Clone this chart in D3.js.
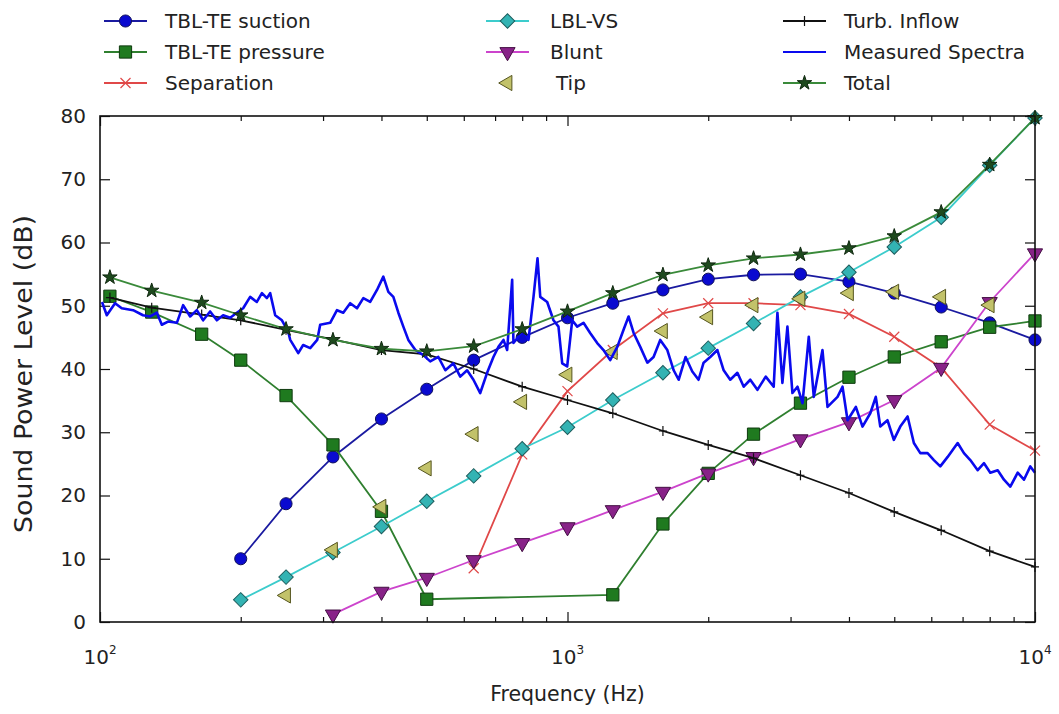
<!DOCTYPE html>
<html>
<head>
<meta charset="utf-8">
<script src="https://cdn.jsdelivr.net/npm/d3@7"></script>
<style>
body { margin: 0; background: #fff; }
text { font-family: "DejaVu Sans", Verdana, sans-serif; fill: #222; }
</style>
</head>
<body>
<svg id="chart"></svg>
<script>
// one-third octave bands (Hz)
var bands = [105, 129, 165, 200, 250, 315, 400, 500, 630, 800, 1000, 1250, 1600, 2000, 2500, 3150, 4000, 5000, 6300, 8000, 10000];

var suction    = [null, null, null, 10.0, 18.7, 26.1, 32.1, 36.8, 41.4, 45.0, 48.1, 50.4, 52.5, 54.2, 54.9, 55.0, 53.8, 52.0, 49.8, 47.3, 44.6];
var pressure   = [51.5, 49.0, 45.5, 41.4, 35.8, 28.0, 17.5, 3.6, null, null, null, 4.3, 15.5, 23.5, 29.7, 34.6, 38.7, 41.9, 44.3, 46.6, 47.6];
var separation = [null, null, null, null, null, null, null, null, 8.5, 26.5, 36.5, 43.0, 48.8, 50.4, 50.4, 50.1, 48.7, 45.1, 40.2, 31.2, 27.1];
var lblvs      = [null, null, null, 3.5, 7.1, 11.0, 15.1, 19.1, 23.1, 27.4, 30.8, 35.1, 39.4, 43.3, 47.2, 51.4, 55.3, 59.3, 64.0, 72.2, 79.7];
var blunt      = [null, null, null, null, null, 1.2, 4.8, 7.0, 9.8, 12.5, 15.0, 17.7, 20.6, 23.5, 26.1, 28.9, 31.6, 35.1, 40.2, 50.6, 58.3];
var tip        = [null, null, null, null, 4.2, 11.4, 18.2, 24.3, 29.7, 34.8, 39.1, 42.7, 46.0, 48.2, 50.1, 51.1, 52.0, 52.2, 51.4, 50.1, null];
var turb       = [51.3, 49.7, 48.6, 47.7, 46.2, 44.7, 43.0, 42.3, 40.0, 37.2, 35.1, 33.0, 30.2, 28.0, 25.9, 23.2, 20.4, 17.4, 14.5, 11.2, 8.7];
var total      = [54.5, 52.4, 50.5, 48.5, 46.3, 44.6, 43.2, 42.8, 43.6, 46.3, 49.1, 52.0, 54.9, 56.4, 57.5, 58.1, 59.1, 61.0, 64.8, 72.3, 79.7];

// measured narrow-band spectrum
var measFreq = [101, 103.4, 107.7, 111.3, 117.7, 123.6, 128, 132.3, 135.6, 139.8, 146, 150.6, 155.9, 161.1, 166.2, 172, 177.8, 183.4, 189.9, 196.2,
  202.4, 209.5, 216.5, 222, 227.5, 231.2, 237, 245, 252.7, 255.2, 261.6, 265.5, 272, 281.6, 291.5, 295.8, 310.7, 321.3, 331.4, 342.9,
  354.6, 365.8, 378.4, 391.3, 403.7, 413.8, 424.1, 434.7, 445.5, 456.6, 472.7, 491.6, 508.6, 529.3, 547.9, 569.9, 589.6, 609.9, 629.2, 650.6,
  673, 694.3, 711.6, 729.5, 742.9, 761.4, 766.3, 785.4, 805.1, 825.2, 845.8, 862.7, 874.4, 904.8, 933.3, 956.5, 974.3, 998.5, 1023.5, 1049,
  1082, 1118, 1157.6, 1194, 1234, 1278, 1318, 1351, 1385, 1431, 1482, 1528, 1579, 1635, 1687, 1729, 1789, 1849, 1907, 1955,
  2020, 2092, 2158, 2229, 2309, 2382, 2460, 2548, 2655, 2761, 2812, 2882, 2954, 3028, 3104, 3182, 3282, 3364, 3511, 3599,
  3781, 3875, 3972, 4138, 4276, 4443, 4565, 4667, 4836, 4989, 5150, 5339, 5507, 5684, 5891, 6077, 6272, 6504, 6832, 7047,
  7271, 7541, 7779, 8024, 8321, 8583, 8855, 9183, 9471, 9772, 10000];
var measDb = [50.6, 48.5, 50.4, 49.6, 49.3, 48.5, 48.3, 48.9, 47.0, 47.5, 47.3, 50.1, 48.3, 49.3, 47.7, 49.1, 47.7, 48.5, 48.1, 48.9,
  49.6, 51.4, 50.6, 52.0, 51.2, 52.0, 48.5, 47.7, 45.9, 44.6, 43.3, 42.5, 43.8, 43.3, 44.6, 47.0, 47.3, 49.3, 48.9, 50.4,
  49.6, 51.2, 50.6, 52.5, 54.6, 52.2, 51.4, 48.9, 46.7, 44.6, 43.0, 42.2, 41.2, 41.9, 39.8, 40.9, 38.8, 39.8, 38.3, 36.2,
  39.4, 41.9, 43.5, 44.6, 43.0, 54.1, 44.1, 45.1, 46.2, 44.6, 51.4, 57.5, 51.4, 50.6, 47.7, 46.7, 40.9, 40.4, 47.7, 46.7,
  47.3, 45.7, 44.1, 43.0, 41.4, 43.5, 46.2, 48.3, 45.7, 43.5, 41.0, 41.9, 44.6, 43.0, 39.8, 38.3, 41.9, 39.6, 38.3, 41.0,
  41.9, 43.0, 39.8, 38.3, 39.4, 37.2, 38.3, 36.7, 38.8, 37.2, 48.9, 37.8, 46.7, 36.2, 37.2, 34.6, 45.1, 35.6, 43.0, 34.0,
  35.6, 37.2, 31.9, 34.0, 30.9, 33.0, 35.6, 30.9, 31.9, 28.8, 30.9, 32.5, 28.3, 26.7, 26.7, 25.6, 24.6, 26.1, 28.3, 26.7,
  25.6, 24.0, 25.1, 23.6, 24.0, 22.5, 21.4, 23.6, 22.5, 24.6, 23.6];

var xMajor = [100, 1000, 10000];
var xMinor = [200, 300, 400, 500, 600, 700, 800, 900, 2000, 3000, 4000, 5000, 6000, 7000, 8000, 9000];
var yTicks = [0, 10, 20, 30, 40, 50, 60, 70, 80];

var margin = {top: 116, right: 24, bottom: 92, left: 100};
var width  = 1059 - margin.left - margin.right;
var height = 714 - margin.top - margin.bottom;

var x = d3.scaleLog().domain([100, 10000]).range([0, width]);
var y = d3.scaleLinear().domain([0, 80]).range([height, 0]);

var svg = d3.select("#chart")
  .attr("width", 1059)
  .attr("height", 714)
  .append("g")
  .attr("transform", "translate(" + margin.left + "," + margin.top + ")");

svg.append("defs").append("clipPath").attr("id", "clip")
  .append("rect").attr("x", -8).attr("y", -8).attr("width", width + 16).attr("height", height + 16);

// ticks, all pointing inward
function styleAxis(g) {
  g.select(".domain").remove();
  g.selectAll(".tick line").attr("stroke", "#111").attr("stroke-width", 1.2);
  g.selectAll(".tick text").style("font-size", "20px").attr("fill", "#222");
}
svg.append("g").attr("transform", "translate(0," + height + ")")
  .call(d3.axisBottom(x).tickValues(xMajor).tickSize(-10).tickFormat("")).call(styleAxis);
svg.append("g").attr("transform", "translate(0," + height + ")")
  .call(d3.axisBottom(x).tickValues(xMinor).tickSize(-5).tickFormat("")).call(styleAxis);
svg.append("g")
  .call(d3.axisTop(x).tickValues(xMajor).tickSize(-10).tickFormat("")).call(styleAxis);
svg.append("g")
  .call(d3.axisTop(x).tickValues(xMinor).tickSize(-5).tickFormat("")).call(styleAxis);
svg.append("g")
  .call(d3.axisLeft(y).tickValues(yTicks).tickSize(-10).tickPadding(14)).call(styleAxis);
svg.append("g").attr("transform", "translate(" + width + ",0)")
  .call(d3.axisRight(y).tickValues(yTicks).tickSize(-10).tickFormat("")).call(styleAxis);

// 10^n labels
var xl = svg.append("g").selectAll("text").data(xMajor).enter().append("text")
  .attr("x", function(d) { return x(d); })
  .attr("y", height + 42)
  .attr("text-anchor", "middle")
  .style("font-size", "20px");
xl.append("tspan").text("10");
xl.append("tspan").attr("dy", -10).style("font-size", "12px")
  .text(function(d) { return Math.round(Math.log10(d)); });

svg.append("text")
  .attr("x", width / 2)
  .attr("y", height + 79)
  .attr("text-anchor", "middle")
  .style("font-size", "20.5px")
  .text("Frequency (Hz)");

svg.append("text")
  .attr("transform", "rotate(-90)")
  .attr("x", -258)
  .attr("y", -68)
  .attr("text-anchor", "middle")
  .attr("textLength", 318)
  .attr("lengthAdjust", "spacingAndGlyphs")
  .style("font-size", "25px")
  .text("Sound Power Level (dB)");

// series table
var series = [
  {name: "TBL-TE suction",  vals: suction,    line: "#1a1aa0", fill: "#0a0ad0", edge: "#10105a", mk: "circle"},
  {name: "TBL-TE pressure", vals: pressure,   line: "#2f7f2f", fill: "#1f7a1f", edge: "#0f3a0f", mk: "square"},
  {name: "Separation",      vals: separation, line: "#e04848", fill: "#e04848", edge: "#e04848", mk: "x"},
  {name: "LBL-VS",          vals: lblvs,      line: "#3ccccc", fill: "#33b3b3", edge: "#1d5d5d", mk: "diamond"},
  {name: "Blunt",           vals: blunt,      line: "#cc44cc", fill: "#882288", edge: "#441144", mk: "tridown"},
  {name: "Tip",             vals: tip,        line: null,      fill: "#c2c26a", edge: "#55551f", mk: "trileft"},
  {name: "Turb. Inflow",    vals: turb,       line: "#111111", fill: "#111111", edge: "#111111", mk: "plus"},
  {name: "Measured Spectra", vals: null,      line: "#0a0aee", fill: null,      edge: null,      mk: null},
  {name: "Total",           vals: total,      line: "#3a8a3a", fill: "#1e4a1e", edge: "#102810", mk: "star"}
];

function markerPath(mk) {
  if (mk === "circle")  return d3.symbol(d3.symbolCircle, 115)();
  if (mk === "square")  return d3.symbol(d3.symbolSquare, 150)();
  if (mk === "diamond") return d3.symbol(d3.symbolSquare, 105)();
  if (mk === "tridown" || mk === "trileft") return d3.symbol(d3.symbolTriangle, 100)();
  if (mk === "star")    return d3.symbol(d3.symbolStar, 65)();
  if (mk === "x")       return "M-5,-5L5,5M-5,5L5,-5";
  if (mk === "plus")    return "M-4,0H4M0,-5V5";
}
function markerRot(mk) {
  if (mk === "diamond") return 45;
  if (mk === "tridown") return 180;
  if (mk === "trileft") return -90;
  return 0;
}
function drawMarker(g, s, px, py) {
  g.append("path")
    .attr("d", markerPath(s.mk))
    .attr("transform", "translate(" + px + "," + py + ") rotate(" + markerRot(s.mk) + ")")
    .attr("fill", (s.mk === "x" || s.mk === "plus") ? "none" : s.fill)
    .attr("stroke", s.edge)
    .attr("stroke-width", (s.mk === "x" || s.mk === "plus") ? 1.2 : 1);
}

var line = d3.line()
  .x(function(d) { return x(d.f); })
  .y(function(d) { return y(d.v); });

var plot = svg.append("g").attr("clip-path", "url(#clip)");

series.forEach(function(s) {
  if (s.vals === null) {
    var meas = measFreq.map(function(f, i) { return {f: f, v: measDb[i]}; });
    plot.append("path")
      .datum(meas)
      .attr("d", line)
      .attr("fill", "none")
      .attr("stroke", s.line)
      .attr("stroke-width", 2.6)
      .attr("stroke-linejoin", "round");
    return;
  }
  var pts = bands.map(function(f, i) { return {f: f, v: s.vals[i]}; })
    .filter(function(d) { return d.v !== null; });
  if (s.line) {
    plot.append("path")
      .datum(pts)
      .attr("d", line)
      .attr("fill", "none")
      .attr("stroke", s.line)
      .attr("stroke-width", 1.8);
  }
  var mg = plot.append("g");
  pts.forEach(function(d) { drawMarker(mg, s, x(d.f), y(d.v)); });
});

// frame
svg.append("rect")
  .attr("width", width)
  .attr("height", height)
  .attr("fill", "none")
  .attr("stroke", "#111")
  .attr("stroke-width", 1.6);

// legend, three columns above the axes
var legend = d3.select("#chart").append("g");
var colX  = [104, 486, 783];
var textX = [165, 550, 844];
var rowY  = [21, 52, 83];
series.forEach(function(s, i) {
  var c = Math.floor(i / 3), r = i % 3;
  var y0 = rowY[r];
  if (s.line) {
    legend.append("line")
      .attr("x1", colX[c]).attr("x2", colX[c] + 43)
      .attr("y1", y0).attr("y2", y0)
      .attr("stroke", s.line)
      .attr("stroke-width", s.mk ? 1.8 : 2.2);
  }
  if (s.mk) drawMarker(legend, s, colX[c] + 21.5, y0);
  legend.append("text")
    .attr("x", s.name === "Tip" ? textX[c] + 6 : textX[c])
    .attr("y", y0)
    .attr("dy", "0.35em")
    .style("font-size", "20px")
    .text(s.name);
});
</script>
</body>
</html>
